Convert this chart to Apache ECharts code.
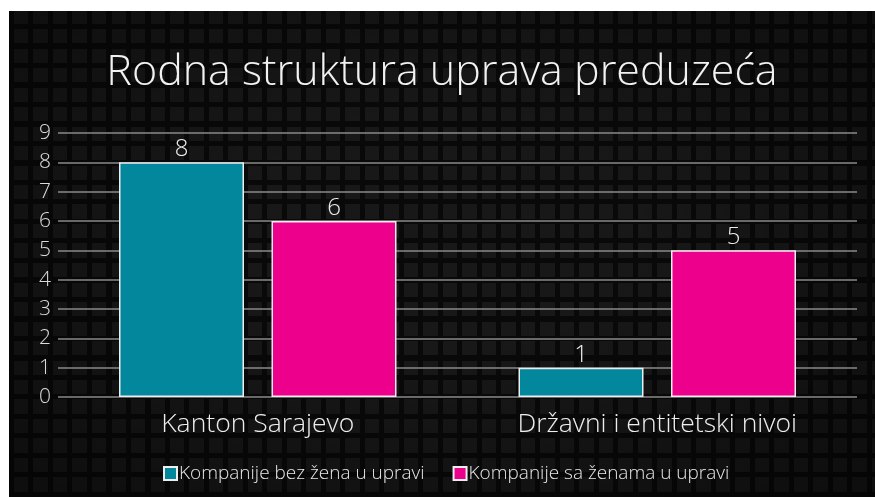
<!DOCTYPE html>
<html>
<head>
<meta charset="utf-8">
<script src="https://cdn.jsdelivr.net/npm/echarts@6/dist/echarts.min.js"></script>
<style>
  html, body { margin: 0; padding: 0; background: #fff; }
  #wrap {
    position: absolute; left: 9px; top: 11px; width: 866px; height: 486px;
    background-color: #181818;
    background-image:
      radial-gradient(ellipse at 50% 45%, rgba(0,0,0,0) 30%, rgba(0,0,0,0.45) 100%),
      repeating-linear-gradient(90deg, #090909 0px, #090909 5px, transparent 5px, transparent 19.5px),
      repeating-linear-gradient(0deg, #090909 0px, #090909 5px, transparent 5px, transparent 19.5px);
  }
  #chart { width: 866px; height: 486px; }
</style>
</head>
<body>
<div id="wrap"><div id="chart"></div></div>
<script>
// === DONNEES ===
const categories = ["Kanton Sarajevo", "Državni i entitetski nivoi"];
const bezZena = [8, 1];
const saZenama = [6, 5];
const seriesNames = ["Kompanije bez žena u upravi", "Kompanije sa ženama u upravi"];
const titre = "Rodna struktura uprava preduzeća";

const font = "'Open Sans', sans-serif";

// === GRAPH ===
const chart = echarts.init(document.getElementById("chart"));
const labelStyle = {
    show: true, position: "top", distance: 1,
    color: "#eeeeee", fontSize: 24, fontFamily: font, fontWeight: 300
};
const option = {
    backgroundColor: "transparent",
    title: {
        text: titre, left: "center", top: 35,
        textStyle: { color: "#f2f2f2", fontSize: 43, fontFamily: font, fontWeight: 300 }
    },
    legend: {
        left: 149, top: 448, itemWidth: 13, itemHeight: 13, itemGap: 28,
        icon: "rect",
        textStyle: { color: "#e6e6e6", fontSize: 19, fontFamily: font, fontWeight: 300, padding: [0, 0, 0, -3] },
        data: seriesNames
    },
    grid: { left: 49, right: 18, top: 122, bottom: 100 },
    xAxis: {
        type: "category", data: categories,
        axisLine: { show: false }, axisTick: { show: false },
        axisLabel: { color: "#eeeeee", fontSize: 26.5, fontFamily: font, fontWeight: 300, margin: 14 }
    },
    yAxis: {
        type: "value", min: 0, max: 9, interval: 1,
        axisLine: { show: false }, axisTick: { show: false },
        axisLabel: { color: "#dcdcdc", fontSize: 21, fontFamily: font, fontWeight: 300, margin: 7 },
        splitLine: { lineStyle: { color: "#8a8a8a", width: 1.5 } }
    },
    series: [
        {
            name: seriesNames[0], type: "bar", data: bezZena,
            barWidth: 125, barGap: "22%",
            itemStyle: { color: "#02879d", borderColor: "#eeeeee", borderWidth: 1.5 },
            label: labelStyle
        },
        {
            name: seriesNames[1], type: "bar", data: saZenama,
            barWidth: 125,
            itemStyle: { color: "#ec008c", borderColor: "#eeeeee", borderWidth: 1.5 },
            label: labelStyle
        }
    ]
};
chart.setOption(option);
</script>
</body>
</html>
